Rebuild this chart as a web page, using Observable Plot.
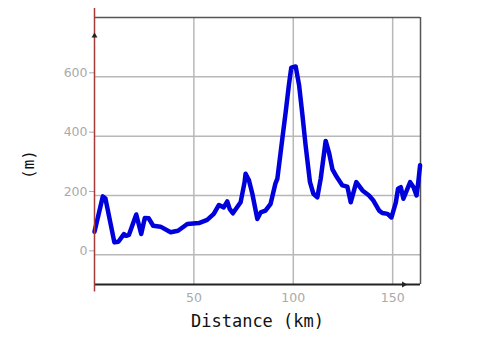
<!DOCTYPE html>
<html>
<head>
<meta charset="utf-8">
<script src="https://cdn.jsdelivr.net/npm/d3@7"></script>
<script src="https://cdn.jsdelivr.net/npm/@observablehq/plot@0.6"></script>
<style>
  html, body { margin: 0; padding: 0; background: #fff; }
  #chart svg { display: block; }
</style>
</head>
<body>
<div id="chart"></div>
<script>
const distanceKm = [0, 4.2, 5.5, 10, 12, 14.8, 16, 17.3, 21, 23.5, 25.3, 27.3, 29.5, 33.2, 38.3, 42, 46.7, 52.5, 56.7, 60, 62.6, 65, 66.8, 68, 69.6, 73.5, 75.5, 76, 77.7, 79.4, 81.9, 83.6, 86, 88.6, 91, 92, 94.5, 96.2, 97.8, 99, 101.2, 102.9, 104.6, 106.2, 108.4, 110.1, 112.1, 113.8, 116.3, 118, 119.7, 121.9, 124.7, 127.2, 128.9, 131.7, 134.8, 138.1, 140.3, 143.2, 144.8, 147.4, 149.4, 151.6, 152.7, 154.1, 155.4, 157.1, 158.8, 160.5, 162, 162.8, 163.8];
const elevationM = [78, 197, 190, 42, 44, 70, 64, 67, 136, 70, 124, 123, 98, 95, 76, 81, 104, 107, 118, 138, 168, 160, 180, 155, 140, 177, 245, 273, 251, 206, 121, 143, 149, 172, 240, 257, 392, 482, 573, 631, 635, 573, 471, 369, 245, 206, 194, 257, 384, 344, 288, 262, 234, 230, 177, 245, 217, 200, 183, 149, 141, 138, 126, 177, 223, 228, 189, 217, 245, 228, 200, 240, 302];
const xTicks = [50, 100, 150];
const yTicks = [0, 200, 400, 600];
const xTitle = "Distance (km)";
const yTitle = "(m)";

const data = distanceKm.map((d, i) => ({d, e: elevationM[i]}));
const xMin = 0, xMax = 164, yMin = -100, yMax = 800;

const chart = Plot.plot({
  width: 504,
  height: 353,
  marginLeft: 94,
  marginRight: 84,
  marginTop: 17,
  marginBottom: 69,
  style: {background: "#fff", fontFamily: "DejaVu Sans"},
  x: {domain: [xMin, xMax]},
  y: {domain: [yMin, yMax]},
  marks: [
    Plot.gridX(xTicks, {stroke: "#b8b8b8", strokeOpacity: 1, strokeWidth: 1.5}),
    Plot.gridY(yTicks, {stroke: "#b8b8b8", strokeOpacity: 1, strokeWidth: 1.5}),
    Plot.ruleY([yMax], {stroke: "#555", strokeWidth: 1.5}),
    Plot.ruleX([xMax], {stroke: "#555", strokeWidth: 1.5}),
    Plot.axisX(xTicks, {tickSize: 0, tickPadding: 9, fill: "#aaa", fontSize: 12.5, label: null}),
    Plot.axisY(yTicks, {tickSize: 5, tickPadding: 2, stroke: "#aaa", fill: "#aaa", fontSize: 12.5, dy: -4, label: null}),
    Plot.line(data, {x: "d", y: "e", stroke: "#0000dd", strokeWidth: 4.5, strokeLinejoin: "round", strokeLinecap: "round"}),
    Plot.ruleY([yMin], {stroke: "#222", strokeWidth: 2}),
    Plot.ruleX([xMin], {y1: -125, y2: 830, stroke: "#a83a3a", strokeWidth: 1.5, clip: false}),
    Plot.dot([{x: xMin, y: 738}], {x: "x", y: "y", symbol: "triangle", r: 2.2, fill: "#222", stroke: null}),
    Plot.dot([{x: 155.6, y: yMin}], {x: "x", y: "y", symbol: "triangle", r: 2.2, fill: "#222", stroke: null, rotate: 90}),
    Plot.text([xTitle], {frameAnchor: "bottom", dy: 42, fontFamily: "DejaVu Sans Mono", fontSize: 17, fill: "#111"}),
    Plot.text([yTitle], {frameAnchor: "left", dx: -66, dy: 28, rotate: -90, fontFamily: "DejaVu Sans Mono", fontSize: 16, fill: "#111"})
  ]
});
document.getElementById("chart").appendChild(chart);
</script>
</body>
</html>
